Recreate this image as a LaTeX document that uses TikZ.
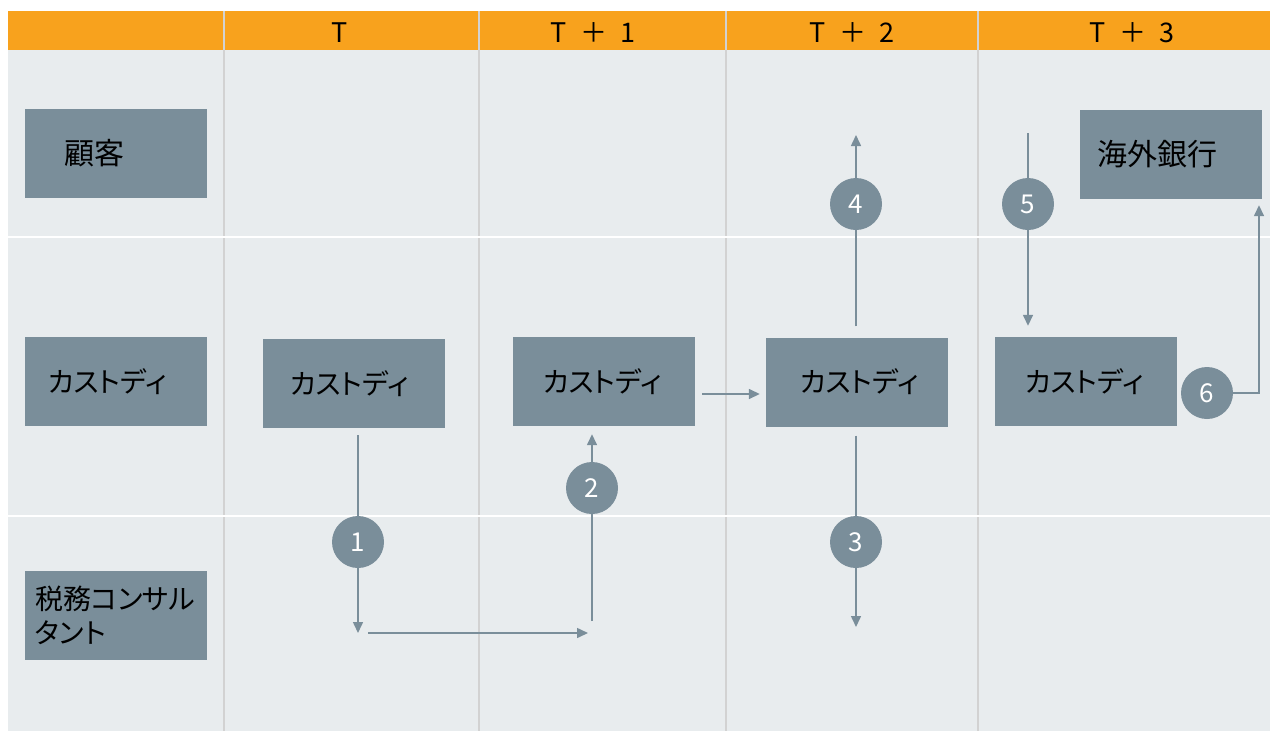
\documentclass[tikz,border=0pt]{standalone}
\usepackage{fontspec}
\setmainfont{Noto Sans CJK JP}[RawFeature={+palt}]
\usetikzlibrary{arrows.meta}
\definecolor{bandorange}{HTML}{F8A21D}
\definecolor{lanegray}{HTML}{E8ECEE}
\definecolor{boxgray}{HTML}{7A8E9A}
\definecolor{rulegray}{HTML}{D2D2D2}

\begin{document}
\begin{tikzpicture}[x=1pt, y=-1pt,
    box/.style={fill=boxgray, minimum height=89pt, inner ysep=0pt, align=left,
        inner xsep=#1, text width={182pt-2*#1}, font=\fontsize{30}{34}\selectfont},
    kana/.style={font=\fontsize{28}{34}\selectfont},
    num/.style={circle, fill=boxgray, minimum size=52pt, inner sep=0pt, text=white,
        font=\fontsize{26}{26}\selectfont},
    link/.style={draw=boxgray, line width=1.5pt},
    flow/.style={link, -{Triangle[length=11pt, width=10pt]}},
    hdr/.style={font=\fontsize{27}{27}\selectfont}]
    \useasboundingbox (0,0) rectangle (1270,731);

    % lanes and columns
    \fill[bandorange] (8,11) rectangle (1270,50);
    \fill[lanegray] (8,50) rectangle (1270,731);
    \foreach \x in {224,479,726,978}
        \draw[rulegray, line width=2pt] (\x,11) -- (\x,731);
    \foreach \y in {237,516}
        \draw[white, line width=2pt] (8,\y) -- (1270,\y);

    % column heads
    \foreach \x/\t [count=\i] in {340/T, 593/T\enspace＋\enspace1, 852/T\enspace＋\enspace2, 1132/T\enspace＋\enspace3}
        \node[hdr] (h\i) at (\x,33) {\t};

    % row labels
    \node[box=39pt] (cust) at (116,153.5) {顧客};
    \node[box=23pt, kana] (lcus) at (116,381.5) {カストディ};
    \node[box=10pt, kana] (ltax) at (116,615) {税務コンサル\\タント};

    % custodians and the foreign bank
    \node[box=27pt, kana] (c1) at (354,383.5) {カストディ};
    \node[box=30pt, kana] (c2) at (604,381.5) {カストディ};
    \node[box=34pt, kana] (c3) at (857,382) {カストディ};
    \node[box=30pt, kana] (c4) at (1086,381.5) {カストディ};
    \node[box=17pt] (bank) at (1171,154.5) {海外銀行};

    % step numbers
    \foreach \i/\x/\y in {1/358/542, 2/592/488, 3/856/542, 4/856/204, 5/1028/204, 6/1207/393}
        \node[num] (n\i) at (\x,\y) {\i};

    \coordinate (k1) at (358,633);
    \coordinate (k2) at (592,621);
    \coordinate (k3) at (856,627);
    \coordinate (k4) at (856,135);
    \coordinate (k5) at (1028,133);
    \coordinate (k6) at (1259,393);

    % flows
    \draw[link, shorten <=7pt] (c1.south -| n1) -- (n1);
    \draw[flow] (n1) -- (k1);
    \draw[flow, shorten <=10pt, shorten >=4pt] (k1) -- (k1 -| k2);
    \draw[flow, shorten >=8pt] (k2) -- (n2) -- (c2.south -| n2);
    \draw[flow, shorten <=7pt, shorten >=6pt] ([yshift=-12.5pt]c2.east) -- ([yshift=-12.5pt]c2.east -| c3.west);
    \draw[link, shorten <=11pt] (c3.north -| n4) -- (n4);
    \draw[flow] (n4) -- (k4);
    \draw[link, shorten <=9pt] (c3.south -| n3) -- (n3);
    \draw[flow] (n3) -- (k3);
    \draw[flow, shorten >=11pt] (k5) -- (n5) -- (c4.north -| k5);
    \draw[flow, shorten >=6pt] (n6) -- (k6) -- (k6 |- bank.south);
\end{tikzpicture}
\end{document}
